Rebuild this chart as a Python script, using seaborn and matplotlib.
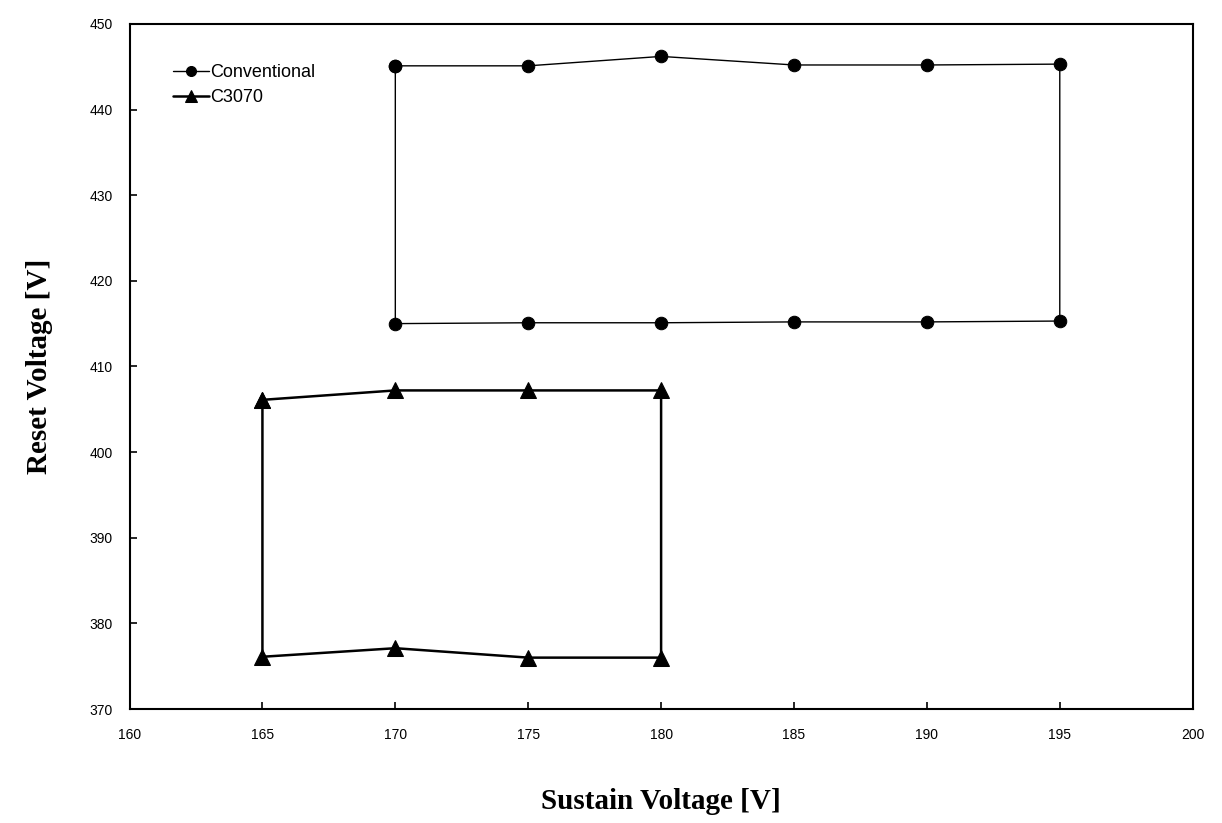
import pandas as pd
import matplotlib.pyplot as plt
import seaborn as sns

# values
conv_x = [170, 175, 180, 185, 190, 195]
conv_top = [445.1, 445.1, 446.2, 445.2, 445.2, 445.3]
conv_bottom = [415.0, 415.1, 415.1, 415.2, 415.2, 415.3]

c3070_x = [165, 170, 175, 180]
c3070_top = [406.1, 407.2, 407.2, 407.2]
c3070_bottom = [376.1, 377.1, 376.0, 376.0]

x_ticks = [160, 165, 170, 175, 180, 185, 190, 195, 200]
y_ticks = [370, 380, 390, 400, 410, 420, 430, 440, 450]


def loop_frame(xs, top, bottom, name):
    # closed window: top left->right, then bottom right->left, back to start
    px = list(xs) + list(xs[::-1]) + [xs[0]]
    py = list(top) + list(bottom[::-1]) + [top[0]]
    return pd.DataFrame({"x": px, "y": py, "series": name, "order": range(len(px))})


df_conv = loop_frame(conv_x, conv_top, conv_bottom, "Conventional")
df_c = loop_frame(c3070_x, c3070_top, c3070_bottom, "C3070")

sns.set_theme(style="white")
plt.rcParams["font.family"] = ["Liberation Sans", "DejaVu Sans"]
plt.rcParams["text.color"] = "black"
plt.rcParams["axes.labelcolor"] = "black"

fig = plt.figure(figsize=(12.22, 8.23), dpi=100)
ax = fig.add_axes([0.106, 0.1385, 0.870, 0.8325])

sns.lineplot(data=df_conv, x="x", y="y", sort=False, estimator=None, color="black",
             linewidth=1.0, marker="o", markersize=9, markeredgecolor="black",
             label="Conventional", ax=ax)
sns.lineplot(data=df_c, x="x", y="y", sort=False, estimator=None, color="black",
             linewidth=1.8, marker="^", markersize=11, markeredgecolor="black",
             label="C3070", ax=ax)

ax.set_xlim(160, 200)
ax.set_ylim(370, 450)
ax.set_xticks(x_ticks)
ax.set_yticks(y_ticks)
ax.tick_params(bottom=True, left=True, direction="in", length=5, width=1.2,
               labelsize=10, colors="black")
ax.tick_params(axis="x", pad=14)
ax.tick_params(axis="y", pad=12)
for s in ax.spines.values():
    s.set_color("black")
    s.set_linewidth(1.5)

ax.set_xlabel("Sustain Voltage [V]", family="Liberation Serif", fontweight="bold",
              fontsize=21, labelpad=33)
ax.set_ylabel("Reset Voltage [V]", family="Liberation Serif", fontweight="bold",
              fontsize=21, labelpad=26)

leg = ax.legend(loc="upper left", bbox_to_anchor=(0.027, 0.962), frameon=False,
                fontsize=13, handlelength=2.0, handletextpad=0.1, borderpad=0.3,
                labelspacing=0.45, markerscale=0.8)

fig.savefig("out.png", dpi=100)
plt.close(fig)
